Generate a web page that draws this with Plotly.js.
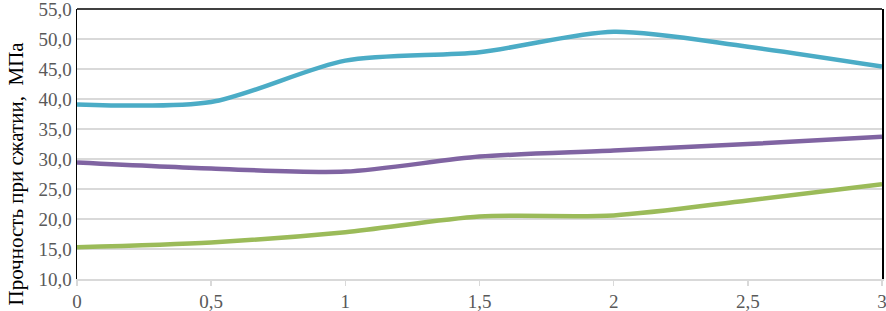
<!DOCTYPE html>
<html>
<head>
<meta charset="utf-8">
<script src="https://cdn.plot.ly/plotly-3.0.1.min.js"></script>
<style>html,body{margin:0;padding:0;background:#fff;}#chart{width:886px;height:311px;}</style>
</head>
<body>
<div id="chart"></div>
<script>
const xValues = [0, 0.5, 1, 1.5, 2, 2.5, 3];
const tealSeries = [39.1, 39.5, 46.4, 47.8, 51.2, 48.7, 45.4];
const purpleSeries = [29.4, 28.4, 27.9, 30.4, 31.4, 32.5, 33.7];
const greenSeries = [15.3, 16.1, 17.8, 20.4, 20.6, 23.1, 25.8];
const xTickVals = [0, 0.5, 1, 1.5, 2, 2.5, 3];
const xTickText = ["0", "0,5", "1", "1,5", "2", "2,5", "3"];
const yTickVals = [10, 15, 20, 25, 30, 35, 40, 45, 50, 55];
const yTickText = ["10,0", "15,0", "20,0", "25,0", "30,0", "35,0", "40,0", "45,0", "50,0", "55,0"];
const yTitle = "Прочность при сжатии,  МПа";

const mk = (y, color) => ({
  x: xValues, y: y, type: 'scatter', mode: 'lines',
  line: {color: color, width: 4.5, shape: 'spline', smoothing: 0.8},
  cliponaxis: false,
  hoverinfo: 'skip'
});

const data = [mk(tealSeries, '#4BACC6'), mk(purpleSeries, '#8064A2'), mk(greenSeries, '#9BBB59')];

const font = {family: 'Liberation Serif, Times New Roman, serif', size: 19, color: '#595959'};

const layout = {
  width: 886, height: 311,
  margin: {l: 77, r: 4, t: 9, b: 32, pad: 0},
  paper_bgcolor: '#fff', plot_bgcolor: '#fff',
  showlegend: false,
  font: font,
  xaxis: {
    range: [0, 3], tickvals: xTickVals, ticktext: xTickText,
    showgrid: false, zeroline: false,
    showline: true, linecolor: '#d9d9d9', linewidth: 1.5,
    ticks: 'outside', ticklen: 5, tickcolor: '#d9d9d9', tickwidth: 1.5,
    tickfont: font, ticklabeloverflow: 'allow'
  },
  yaxis: {
    range: [10, 55], tickvals: yTickVals, ticktext: yTickText,
    showgrid: true, gridcolor: '#d9d9d9', gridwidth: 1.5,
    zeroline: false, showline: true, linecolor: '#000', linewidth: 1.5, mirror: true,
    ticks: '', tickfont: font, ticklabeloverflow: 'allow'
  },
  shapes: [{type: 'line', xref: 'paper', yref: 'paper', x0: 0, x1: 1, y0: 1, y1: 1, line: {color: '#000', width: 1.5}}],
  annotations: [{
    text: yTitle, textangle: -90, xref: 'paper', yref: 'paper',
    x: -0.076, y: 0.39, xanchor: 'center', yanchor: 'middle', showarrow: false,
    font: {family: 'Liberation Serif, Times New Roman, serif', size: 21, color: '#000'}
  }]
};

Plotly.newPlot('chart', data, layout, {displayModeBar: false, staticPlot: true});
</script>
</body>
</html>
